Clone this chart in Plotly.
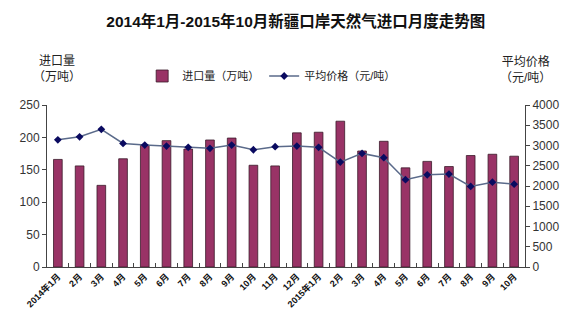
import plotly.graph_objects as go

months = ["2014年1月", "2月", "3月", "4月", "5月", "6月", "7月", "8月", "9月", "10月", "11月", "12月",
          "2015年1月", "2月", "3月", "4月", "5月", "6月", "7月", "8月", "9月", "10月"]
volume = [166, 156, 126, 167, 188, 195, 182, 196, 199, 157, 156, 207,
          208, 225, 179, 194, 153, 163, 155, 172, 174, 171]
price = [3140, 3215, 3400, 3050, 3010, 2985, 2955, 2930, 3010, 2895, 2970, 2985,
         2955, 2590, 2805, 2700, 2155, 2275, 2295, 1990, 2095, 2045]

xs = list(range(len(months)))
FONT = "Liberation Sans, Noto Sans CJK SC, sans-serif"

fig = go.Figure()
fig.add_trace(go.Bar(x=xs, y=volume, name="进口量（万吨）", width=0.4,
                     marker=dict(color="#993366", line=dict(color="#3a1a2a", width=0.8))))
fig.add_trace(go.Scatter(x=xs, y=price, name="平均价格（元/吨）", yaxis="y2", mode="lines+markers",
                         line=dict(color="#5a6a8a", width=1.5),
                         marker=dict(symbol="diamond", size=6, color="#0a0a60")))

fig.update_layout(
    width=571, height=336,
    margin=dict(l=47, r=44, t=105, b=69),
    paper_bgcolor="white", plot_bgcolor="white",
    font=dict(family=FONT, size=11, color="#222"),
    title=dict(text="<b>2014年1月-2015年10月新疆口岸天然气进口月度走势图</b>", x=0.518, xanchor="center",
               y=0.935, yanchor="middle", font=dict(size=15.5, color="#111")),
    showlegend=True,
    legend=dict(orientation="h", x=0.47, xanchor="center", y=1.179, yanchor="middle",
                font=dict(size=11), bgcolor="rgba(0,0,0,0)", itemwidth=30),
    bargap=0.5,
    xaxis=dict(range=[-0.5, len(months) - 0.5], tickvals=xs, ticktext=["<b>" + m + "</b>" for m in months],
               tickangle=-45, tickfont=dict(size=9, color="#111"), ticks="", showline=True,
               linecolor="#444", linewidth=1, showgrid=False, zeroline=False,
               minor=dict(tickvals=[i + 0.5 for i in xs[:-1]], ticks="inside", ticklen=4, tickcolor="#444")),
    yaxis=dict(range=[0, 250], dtick=50, showline=True, linecolor="#444", linewidth=1,
               ticks="outside", ticklen=4, tickcolor="#444", showgrid=False, zeroline=False,
               tickfont=dict(size=12, color="#333")),
    yaxis2=dict(range=[0, 4000], dtick=500, overlaying="y", side="right", showline=True,
                linecolor="#444", linewidth=1, ticks="outside", ticklen=4, tickcolor="#444",
                showgrid=False, zeroline=False, tickfont=dict(size=12, color="#333")),
    annotations=[
        dict(text="进口量<br>（万吨）", xref="paper", yref="paper", x=0.021, y=1.22, xanchor="center",
             yanchor="middle", showarrow=False, font=dict(size=12, color="#222")),
        dict(text="平均价格<br>（元/吨）", xref="paper", yref="paper", x=1.002, y=1.22, xanchor="center",
             yanchor="middle", showarrow=False, font=dict(size=12, color="#222")),
    ],
)

fig.write_html("out.html")
